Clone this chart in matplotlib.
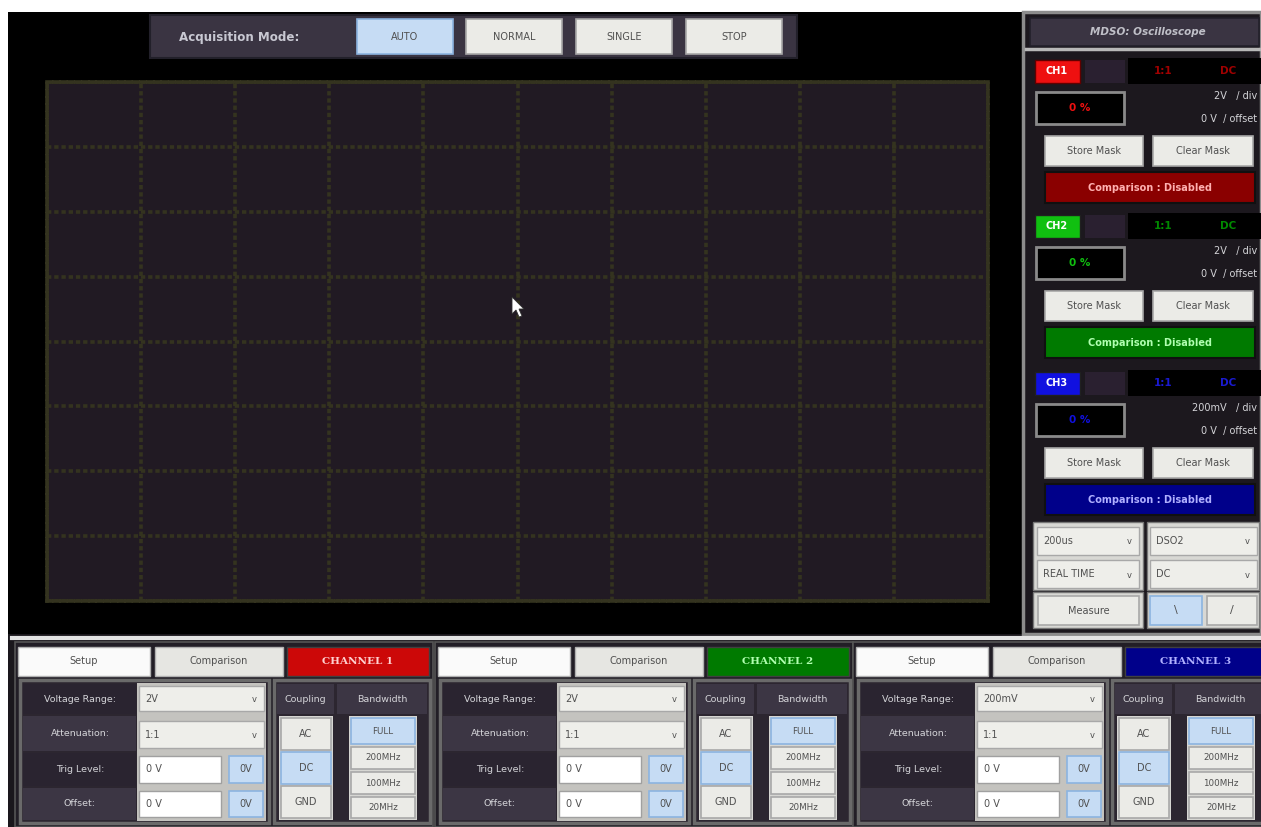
import matplotlib
matplotlib.use('Agg')
import matplotlib.pyplot as plt
from matplotlib.patches import Rectangle, Polygon

W, H = 1261, 827

# --- values shown on the screen ---
acq_modes = ['AUTO', 'NORMAL', 'SINGLE', 'STOP']
acq_selected = 'AUTO'
title = 'MDSO: Oscilloscope'
channels = ['CH1', 'CH2', 'CH3']
channel_tabs = ['CHANNEL 1', 'CHANNEL 2', 'CHANNEL 3']
ch_bright = ['#ee1010', '#10c010', '#1010e0']
ch_dark = ['#8a0000', '#007a00', '#00008a']
ch_info = ['#a00000', '#008a00', '#1a1ad0']
ch_text = ['#ffb0b0', '#b0ffb0', '#b0b0ff']
attenuation = ['1:1', '1:1', '1:1']
coupling = ['DC', 'DC', 'DC']
volt_div = ['2V', '2V', '200mV']
volt_range = ['2V', '2V', '200mV']
offsets = ['0 V', '0 V', '0 V']
trig_levels = ['0 V', '0 V', '0 V']
match_pct = ['0 %', '0 %', '0 %']
coupling_opts = ['AC', 'DC', 'GND']
bandwidth_opts = ['FULL', '200MHz', '100MHz', '20MHz']
bandwidth_sel = 'FULL'
timebase = '200us'
scope_name = 'DSO2'
acq_type = 'REAL TIME'
trig_coupling = 'DC'
n_div_x = 10
n_div_y = 8

BTN = '#ebebe7'
BTN_EC = '#a8a8a8'
SEL = '#c6dcf4'
SEL_EC = '#8cb4e0'
BTN_TXT = '#505050'
LBL_TXT = '#d4d4d8'

fig = plt.figure(figsize=(W / 100, H / 100), dpi=100, facecolor='white')
ax = fig.add_axes([0, 0, 1, 1])
ax.set_xlim(0, W)
ax.set_ylim(H, 0)
ax.axis('off')


def rect(x0, y0, x1, y1, fc, ec='none', lw=1.0, z=1):
    ax.add_patch(Rectangle((x0, y0), x1 - x0, y1 - y0, facecolor=fc,
                           edgecolor=ec, linewidth=lw, zorder=z))


def txt(x, y, s, color=BTN_TXT, size=7, ha='center', z=5, **kw):
    ax.text(x, y, s, color=color, fontsize=size, ha=ha, va='center',
            zorder=z, **kw)


def button(x0, y0, x1, y1, s, selected=False, size=7):
    rect(x0, y0, x1, y1, SEL if selected else BTN,
         SEL_EC if selected else BTN_EC, 1.2, z=3)
    txt((x0 + x1) / 2, (y0 + y1) / 2, s, size=size)


def combo(x0, y0, x1, y1, s):
    rect(x0, y0, x1, y1, '#eeeeea', '#a8a8a8', 1.0, z=3)
    txt(x0 + 6, (y0 + y1) / 2, s, ha='left')
    txt(x1 - 10, (y0 + y1) / 2 + 1, 'v', size=6)


# black scope area
rect(8, 12, W, 634, '#000000', z=0)

# acquisition bar
rect(150, 15, 797, 58, '#3a3442', '#22202a', 1.5)
txt(239, 37, 'Acquisition Mode:', color='#c8c8d2', size=8.6, fontweight='bold')
bx = [357, 466, 576, 686]
for x0, m in zip(bx, acq_modes):
    button(x0, 19, x0 + 96, 54, m, selected=(m == acq_selected))

# scope screen as a real axes
sx0, sy0, sx1, sy1 = 47, 82, 988, 601
sax = fig.add_axes([sx0 / W, 1 - sy1 / H, (sx1 - sx0) / W, (sy1 - sy0) / H])
sax.set_facecolor('#211a23')
sax.set_xlim(0, n_div_x)
sax.set_ylim(-n_div_y / 2, n_div_y / 2)
sax.set_xticks(range(n_div_x + 1))
sax.set_yticks(range(-n_div_y // 2, n_div_y // 2 + 1))
sax.tick_params(length=0, labelbottom=False, labelleft=False)
sax.grid(True, color='#34331f', linewidth=2.6, linestyle=(0, (1.2, 0.8)))
for sp in sax.spines.values():
    sp.set_color('#34331f')
    sp.set_linewidth(2.6)
    sp.set_linestyle((0, (1.2, 0.8)))

# mouse cursor (drawn on the screen axes so it sits above the grid)
sax.add_patch(Polygon([(512, 297), (512, 314), (516, 310), (519, 317),
                       (522, 316), (519, 309), (524, 309)],
                      closed=True, facecolor='white', edgecolor='#303030',
                      linewidth=0.6, zorder=10, transform=ax.transData,
                      clip_on=False))

# right side panel
rect(1023, 12, W, 634, '#1c181e', '#8c8c8c', 2.5)
rect(1030, 18, W - 2, 46, '#3a3442', '#22202a', 1.2)
txt(1148, 32, title, color='#c0c0c8', size=7.5, style='italic', fontweight='bold')
ax.plot([1026, W], [49, 49], color='#b8b8b8', linewidth=2.5, zorder=2)

block_y = [58, 213, 370]
for i, by in enumerate(block_y):
    rect(1035, by + 2, 1080, by + 25, ch_bright[i], '#600000' if i == 0 else '#202020', 1)
    txt(1057, by + 13, channels[i], color='white', size=7, fontweight='bold')
    rect(1085, by + 2, 1125, by + 25, '#2a2030')
    rect(1128, by, W, by + 26, '#000000')
    txt(1163, by + 13, attenuation[i], color=ch_info[i], size=7.5, fontweight='bold')
    txt(1228, by + 13, coupling[i], color=ch_info[i], size=7.5, fontweight='bold')
    rect(1036, by + 34, 1124, by + 66, '#000000', '#8a8a8a', 2)
    txt(1080, by + 50, match_pct[i], color=ch_bright[i], size=7.5, fontweight='bold')
    txt(1257, by + 38, volt_div[i] + '   / div', color=LBL_TXT, size=7, ha='right')
    txt(1257, by + 61, '0 V  / offset', color=LBL_TXT, size=7, ha='right')
    button(1045, by + 78, 1143, by + 108, 'Store Mask')
    button(1153, by + 78, 1253, by + 108, 'Clear Mask')
    rect(1045, by + 114, 1255, by + 145, ch_dark[i], '#101010', 1.5, z=3)
    txt(1150, by + 130, 'Comparison : Disabled', color=ch_text[i], size=7, fontweight='bold')

rect(1033, 522, 1143, 590, '#d8d8d4', '#777777', 1)
rect(1147, 522, 1259, 590, '#d8d8d4', '#777777', 1)
combo(1037, 527, 1139, 555, timebase)
combo(1037, 560, 1139, 588, acq_type)
combo(1150, 527, 1257, 555, scope_name)
combo(1150, 560, 1257, 588, trig_coupling)
rect(1033, 592, 1143, 628, '#d8d8d4', '#777777', 1)
rect(1147, 592, 1259, 628, '#d8d8d4', '#777777', 1)
button(1038, 596, 1139, 625, 'Measure')
button(1150, 596, 1202, 625, '\\', selected=True, size=8)
button(1207, 596, 1257, 625, '/', size=8)

# bottom channel panels
rect(8, 634, W, H, '#1a171c', z=0)
ax.plot([12, W], [638, 638], color='#e4e4e4', linewidth=3, zorder=2)
panel_x = [15, 435, 853]
for i, px in enumerate(panel_x):
    rect(px, 642, px + 418, H, '#221e26', '#555555', 1.2)
    # tabs
    rect(px + 3, 647, px + 135, 676, '#fafafa', '#b0b0b0', 1, z=3)
    txt(px + 69, 661, 'Setup')
    rect(px + 140, 647, px + 268, 676, '#e6e6e2', '#b0b0b0', 1, z=3)
    txt(px + 204, 661, 'Comparison')
    rect(px + 272, 647, px + 414, 676, ch_dark[i] if i else '#cc0808', '#404040', 1, z=3)
    txt(px + 343, 661, channel_tabs[i], color=ch_text[i] if i else '#ffd0d0',
        size=7.5, fontweight='bold', family='DejaVu Serif')

    # setup sub panel
    rect(px + 5, 680, px + 254, 823, '#2c2630', '#6a6a6a', 2.5)
    labels = ['Voltage Range:', 'Attenuation:', 'Trig Level:', 'Offset:']
    rows = [(684, 714), (716, 751), (753, 786), (788, 820)]
    for j, (lab, (r0, r1)) in enumerate(zip(labels, rows)):
        rect(px + 8, r0, px + 121, r1, '#2a2430' if j % 2 == 0 else '#3c3644')
        txt(px + 65, (r0 + r1) / 2, lab, color=LBL_TXT, size=6.8)
    rect(px + 122, 683, px + 251, 821, '#c4c3bf')
    combo(px + 124, 686, px + 249, 711, volt_range[i])
    combo(px + 124, 721, px + 249, 748, attenuation[i])
    for (r0, r1), val in zip(rows[2:], [trig_levels[i], offsets[i]]):
        rect(px + 124, r0 + 3, px + 206, r1 - 3, 'white', '#a0a0a0', 1, z=3)
        txt(px + 131, (r0 + r1) / 2, val, ha='left')
        button(px + 214, r0 + 3, px + 248, r1 - 3, '0V', selected=True)

    # coupling / bandwidth sub panel
    rect(px + 259, 680, px + 415, 823, '#2c2630', '#6a6a6a', 2.5)
    rect(px + 262, 684, px + 319, 714, '#3c3644')
    txt(px + 290, 699, 'Coupling', color=LBL_TXT, size=6.8)
    rect(px + 322, 684, px + 412, 714, '#3c3644')
    txt(px + 367, 699, 'Bandwidth', color=LBL_TXT, size=6.8)
    rect(px + 264, 716, px + 318, 820, '#d6d6d2')
    rect(px + 334, 716, px + 402, 820, '#d6d6d2')
    for (c0, c1), opt in zip([(718, 750), (752, 784), (786, 818)], coupling_opts):
        button(px + 266, c0, px + 316, c1, opt, selected=(opt == coupling[i]))
    for (b0, b1), opt in zip([(718, 744), (747, 769), (772, 794), (797, 818)], bandwidth_opts):
        button(px + 336, b0, px + 400, b1, opt, selected=(opt == bandwidth_sel), size=6.3)

# top white strip and left white edge
rect(0, 0, W, 12, 'white', z=0)
rect(0, 0, 8, H, 'white', z=0)

fig.savefig('out.png', dpi=100, facecolor='white')
